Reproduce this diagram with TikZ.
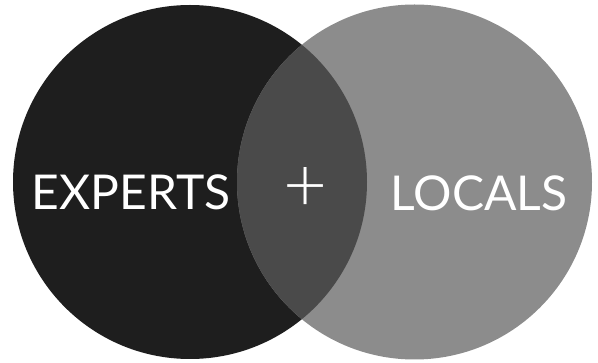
\documentclass[tikz,border=0pt]{standalone}
\usepackage{fontspec}
\setmainfont{Lato}
\newfontfamily\plusfont{Lato Light}
\definecolor{expertsfill}{HTML}{1E1E1E}
\definecolor{localsfill}{HTML}{8C8C8C}
\definecolor{bothfill}{HTML}{4A4A4A}
\tikzset{
  label text/.style={text=white, font=\fontsize{48}{48}\selectfont, inner sep=0pt, anchor=base},
}
\begin{document}
\begin{tikzpicture}[x=1pt,y=-1pt]
  \useasboundingbox (0,0) rectangle (598,363);

  \coordinate (E) at (190,182);
  \coordinate (L) at (414.5,182);

  \fill[expertsfill] (E) circle (177);
  \fill[localsfill] (L) circle (177.5);
  \begin{scope}
    \clip (E) circle (177);
    \fill[bothfill] (L) circle (177.5);
  \end{scope}

  \node[label text] (experts) at (131,210) {EXPERTS};
  \node[label text] (locals) at (479,211) {LOCALS};
  \node[label text, anchor=center, font=\plusfont\fontsize{76}{76}\selectfont] (plus) at (306,190) {+};
\end{tikzpicture}
\end{document}
